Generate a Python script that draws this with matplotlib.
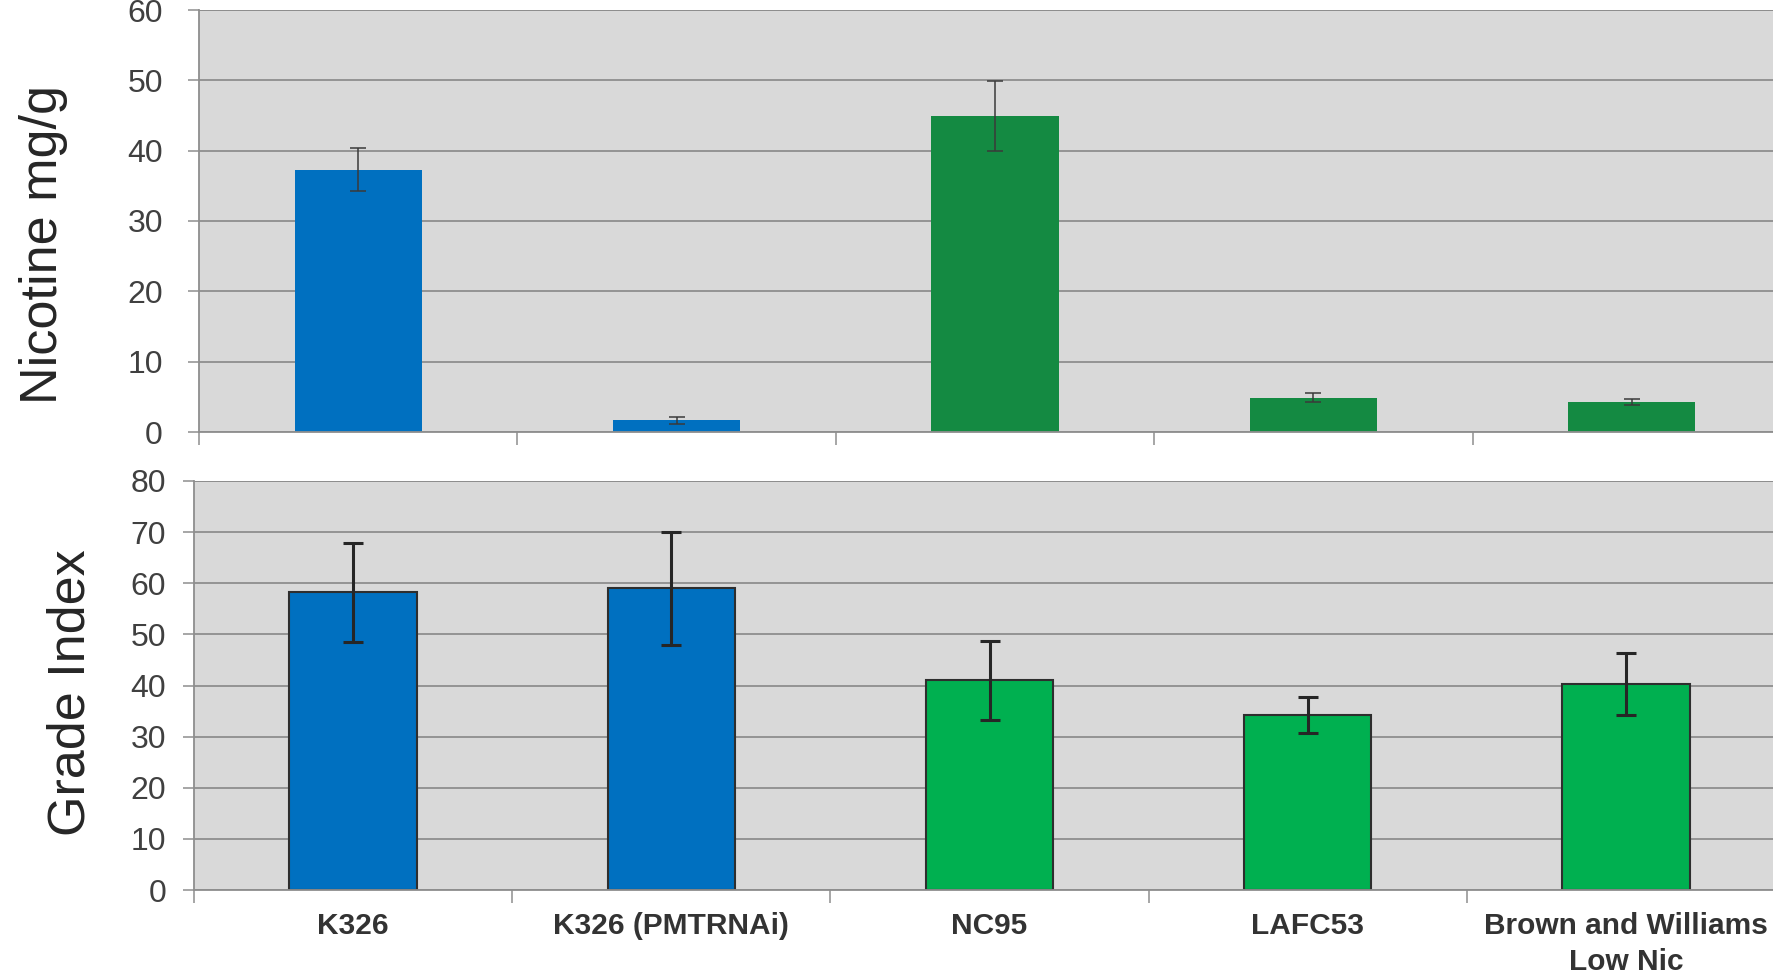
import numpy as np
import matplotlib
matplotlib.use('Agg')
import matplotlib.pyplot as plt

plt.rcParams['font.family'] = ['Liberation Sans', 'DejaVu Sans']

categories = ['K326', 'K326 (PMTRNAi)', 'NC95', 'LAFC53', 'Brown and Williams\nLow Nic']
nicotine = [37.3, 1.7, 44.9, 4.9, 4.3]
nicotine_err = [3.1, 0.5, 5.0, 0.7, 0.45]
grade = [58.2, 59.0, 41.0, 34.2, 40.3]
grade_err = [9.7, 11.0, 7.8, 3.5, 6.1]

top_colors = ['#0070C0', '#0070C0', '#148A42', '#148A42', '#148A42']
bottom_colors = ['#0070C0', '#0070C0', '#00B050', '#00B050', '#00B050']

grid_c = '#8E8E8E'
bg = '#D9D9D9'

fig = plt.figure(figsize=(17.74, 9.77), dpi=100)
ax1 = fig.add_axes([199 / 1774, 1 - 432 / 977, 1592 / 1774, 422 / 977])
ax2 = fig.add_axes([194 / 1774, 1 - 890 / 977, 1591 / 1774, 409 / 977])

x = np.arange(len(categories))


def style(ax, ymax, step, pad):
    ax.set_facecolor(bg)
    ax.set_xlim(-0.5, len(categories) - 0.5)
    ax.set_ylim(0, ymax)
    ax.set_yticks(np.arange(0, ymax + 1, step))
    ax.yaxis.grid(True, color=grid_c, lw=1.3)
    ax.set_axisbelow(True)
    for s in ['top', 'right']:
        ax.spines[s].set_visible(False)
    for s in ['left', 'bottom']:
        ax.spines[s].set_color(grid_c)
        ax.spines[s].set_linewidth(1.3)
    ax.tick_params(axis='y', length=8, width=1.1, color=grid_c, pad=pad,
                   labelsize=23, labelcolor='#404040')
    # boundary ticks between categories, labels sit at the centres
    ax.set_xticks(np.arange(-0.5, len(categories)), minor=False)
    ax.set_xticklabels([])
    ax.tick_params(axis='x', which='major', length=9.5, width=1.1, color=grid_c)


style(ax1, 60, 10, 18)
style(ax2, 80, 10, 12)
ax1.axhline(60, color=grid_c, lw=1.3, zorder=1)
ax2.axhline(80, color=grid_c, lw=1.3, zorder=1)

ax1.bar(x, nicotine, width=0.4, color=top_colors, edgecolor='none', zorder=2)
ax1.errorbar(x, nicotine, yerr=nicotine_err, fmt='none', ecolor='#3A3A3A',
             elinewidth=1.1, capsize=6, capthick=1.1, zorder=3)

ax2.bar(x, grade, width=0.4, color=bottom_colors, edgecolor='#2E2E2E',
        linewidth=1.5, zorder=2)
ax2.errorbar(x, grade, yerr=grade_err, fmt='none', ecolor='#262626',
             elinewidth=2.2, capsize=7, capthick=2.2, zorder=3)

ax2.set_xticks(x, minor=True)
ax2.set_xticklabels(categories, minor=True, fontsize=21.5, fontweight='bold',
                    color='#333333', linespacing=1.35)
ax2.tick_params(axis='x', which='minor', length=0, pad=16)

fig.text(44 / 1774, 1 - 245 / 977, 'Nicotine mg/g', rotation=90, fontsize=37.5,
         color='#262626', ha='center', va='center')
fig.text(71 / 1774, 1 - 693 / 977, 'Grade Index', rotation=90, fontsize=37.5,
         color='#262626', ha='center', va='center')

fig.savefig('out.png', dpi=100, facecolor='white')
